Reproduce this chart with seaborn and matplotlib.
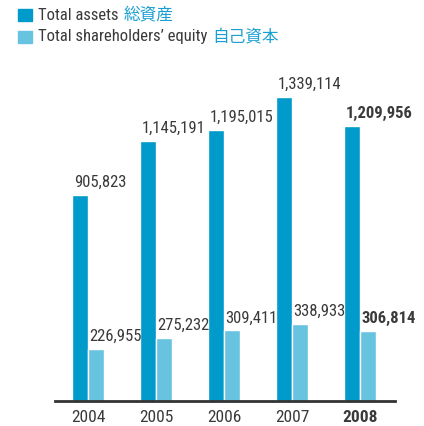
import pandas as pd
import matplotlib.pyplot as plt
import seaborn as sns
from matplotlib import font_manager as fm
from matplotlib.patches import Rectangle

years = ["2004", "2005", "2006", "2007", "2008"]
total_assets = [905823, 1145191, 1195015, 1339114, 1209956]
shareholders_equity = [226955, 275232, 309411, 338933, 306814]
series_names = ["Total assets", "Total shareholders\u2019 equity"]
series_cjk = ["総資産", "自己資本"]
colors = ["#009ACB", "#68C3E0"]

df = pd.DataFrame({
    "year": years * 2,
    "value": total_assets + shareholders_equity,
    "series": [series_names[0]] * 5 + [series_names[1]] * 5,
})

# pick a narrow sans for the Helvetica Condensed look
available = {f.name for f in fm.fontManager.ttflist}
narrow = next((n for n in ["Roboto Condensed", "Archivo Narrow", "Liberation Sans Narrow",
                           "Fira Sans Condensed", "IBM Plex Sans Condensed"] if n in available),
              "DejaVu Sans")

sns.set_style("white")
plt.rcParams["font.family"] = [narrow, "Noto Sans CJK JP", "DejaVu Sans"]
if narrow == "DejaVu Sans":
    plt.rcParams["font.stretch"] = "condensed"

fig = plt.figure(figsize=(4.24, 4.26), dpi=100)
ax = fig.add_axes([55 / 424, 25.5 / 426, 340 / 424, 340 / 426])

sns.barplot(data=df, x="year", y="value", hue="series", palette=colors,
            width=0.46, dodge=True, saturation=1, legend=False, ax=ax)

ax.set_xlim(-0.485, 4.515)
ax.set_ylim(0, 1500000)
ax.set_xlabel("")
ax.set_ylabel("")
ax.set_yticks([])
sns.despine(ax=ax, left=True)
ax.spines["bottom"].set_color("#333333")
ax.spines["bottom"].set_linewidth(2)
ax.tick_params(axis="x", length=0, labelsize=12.5, colors="#3a3a3a", pad=7)
for lbl in ax.get_xticklabels():
    if lbl.get_text() == "2008":
        lbl.set_fontweight("bold")

# value labels, left aligned with each bar
for cont in ax.containers:
    for i, bar in enumerate(cont):
        h = bar.get_height()
        ax.annotate(f"{int(h):,}", (bar.get_x(), h), xytext=(1, 3.5),
                    textcoords="offset points", ha="left", va="bottom",
                    fontsize=12, color="#3a3a3a",
                    fontweight="bold" if i == 4 else "normal")

# legend drawn by hand so the CJK part can be coloured
fig.canvas.draw()
renderer = fig.canvas.get_renderer()
for k, (name, cjk) in enumerate(zip(series_names, series_cjk)):
    y = 426 - 15 - k * 22
    fig.patches.append(Rectangle((18 / 424, (y - 6) / 426), 13.5 / 424, 12 / 426,
                                 transform=fig.transFigure, color=colors[k]))
    t = fig.text(38 / 424, y / 426, name, fontsize=12, color="#3a3a3a",
                 va="center", ha="left")
    bb = t.get_window_extent(renderer)
    fig.text((bb.x1 + 5) / 424, y / 426, cjk, fontsize=12, color="#1A9FD2",
             va="center", ha="left", family=["Noto Sans CJK JP"])

fig.savefig("out.png", dpi=100)
